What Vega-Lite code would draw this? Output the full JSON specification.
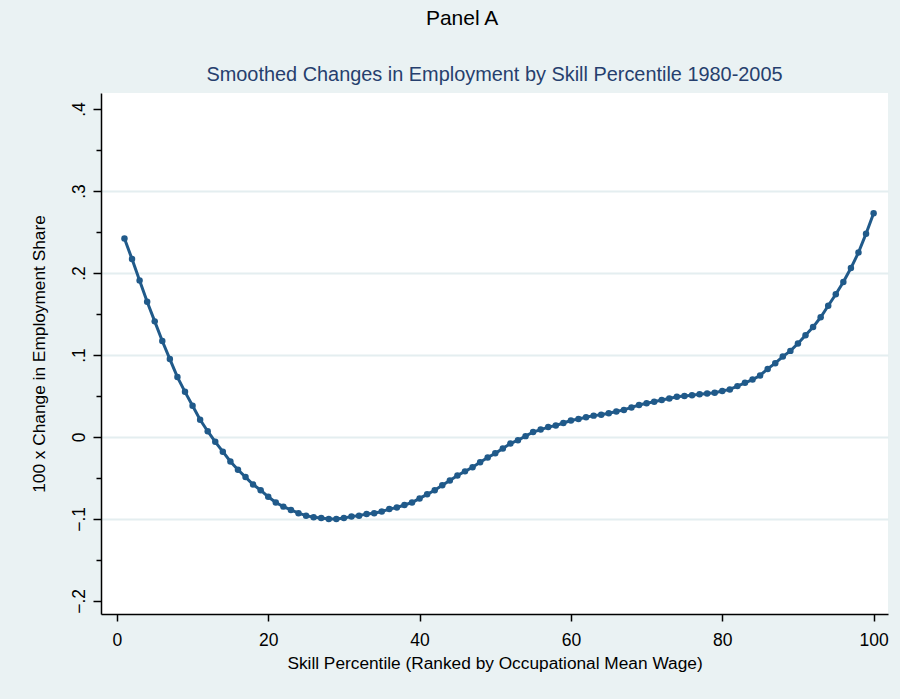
{
  "$schema": "https://vega.github.io/schema/vega-lite/v6.json",
  "background": "#eaf2f3",
  "padding": {"left": 30, "top": 8, "right": 11, "bottom": 31},
  "title": {
    "text": "Panel A",
    "anchor": "middle",
    "frame": "bounds",
    "font": "Liberation Sans",
    "fontSize": 21,
    "fontWeight": "normal",
    "color": "#000000",
    "dx": 3,
    "offset": 36
  },
  "vconcat": [
    {
      "width": 787,
      "height": 521,
      "title": {
        "text": "Smoothed Changes in Employment by Skill Percentile 1980-2005",
        "anchor": "middle",
        "frame": "group",
        "font": "Liberation Sans",
        "fontSize": 19.9,
        "fontWeight": "normal",
        "color": "#263f6e",
        "offset": 8
      },
      "data": {
        "values": [
          {"pct": 1, "chg": 0.242}, {"pct": 2, "chg": 0.217}, {"pct": 3, "chg": 0.191}, {"pct": 4, "chg": 0.165},
          {"pct": 5, "chg": 0.141}, {"pct": 6, "chg": 0.117}, {"pct": 7, "chg": 0.095}, {"pct": 8, "chg": 0.073},
          {"pct": 9, "chg": 0.055}, {"pct": 10, "chg": 0.038}, {"pct": 11, "chg": 0.021}, {"pct": 12, "chg": 0.007},
          {"pct": 13, "chg": -0.006}, {"pct": 14, "chg": -0.018}, {"pct": 15, "chg": -0.030}, {"pct": 16, "chg": -0.040},
          {"pct": 17, "chg": -0.049}, {"pct": 18, "chg": -0.058}, {"pct": 19, "chg": -0.065}, {"pct": 20, "chg": -0.073},
          {"pct": 21, "chg": -0.080}, {"pct": 22, "chg": -0.085}, {"pct": 23, "chg": -0.089}, {"pct": 24, "chg": -0.093},
          {"pct": 25, "chg": -0.096}, {"pct": 26, "chg": -0.098}, {"pct": 27, "chg": -0.099}, {"pct": 28, "chg": -0.100},
          {"pct": 29, "chg": -0.100}, {"pct": 30, "chg": -0.099}, {"pct": 31, "chg": -0.097}, {"pct": 32, "chg": -0.096},
          {"pct": 33, "chg": -0.094}, {"pct": 34, "chg": -0.093}, {"pct": 35, "chg": -0.091}, {"pct": 36, "chg": -0.088},
          {"pct": 37, "chg": -0.086}, {"pct": 38, "chg": -0.083}, {"pct": 39, "chg": -0.080}, {"pct": 40, "chg": -0.075},
          {"pct": 41, "chg": -0.070}, {"pct": 42, "chg": -0.065}, {"pct": 43, "chg": -0.059}, {"pct": 44, "chg": -0.053},
          {"pct": 45, "chg": -0.047}, {"pct": 46, "chg": -0.042}, {"pct": 47, "chg": -0.037}, {"pct": 48, "chg": -0.031},
          {"pct": 49, "chg": -0.025}, {"pct": 50, "chg": -0.020}, {"pct": 51, "chg": -0.014}, {"pct": 52, "chg": -0.008},
          {"pct": 53, "chg": -0.004}, {"pct": 54, "chg": 0.001}, {"pct": 55, "chg": 0.006}, {"pct": 56, "chg": 0.009},
          {"pct": 57, "chg": 0.012}, {"pct": 58, "chg": 0.014}, {"pct": 59, "chg": 0.017}, {"pct": 60, "chg": 0.020},
          {"pct": 61, "chg": 0.022}, {"pct": 62, "chg": 0.024}, {"pct": 63, "chg": 0.026}, {"pct": 64, "chg": 0.027},
          {"pct": 65, "chg": 0.029}, {"pct": 66, "chg": 0.031}, {"pct": 67, "chg": 0.033}, {"pct": 68, "chg": 0.036},
          {"pct": 69, "chg": 0.039}, {"pct": 70, "chg": 0.041}, {"pct": 71, "chg": 0.043}, {"pct": 72, "chg": 0.045},
          {"pct": 73, "chg": 0.047}, {"pct": 74, "chg": 0.049}, {"pct": 75, "chg": 0.050}, {"pct": 76, "chg": 0.051},
          {"pct": 77, "chg": 0.052}, {"pct": 78, "chg": 0.053}, {"pct": 79, "chg": 0.054}, {"pct": 80, "chg": 0.056},
          {"pct": 81, "chg": 0.058}, {"pct": 82, "chg": 0.062}, {"pct": 83, "chg": 0.066}, {"pct": 84, "chg": 0.070},
          {"pct": 85, "chg": 0.075}, {"pct": 86, "chg": 0.083}, {"pct": 87, "chg": 0.090}, {"pct": 88, "chg": 0.098},
          {"pct": 89, "chg": 0.105}, {"pct": 90, "chg": 0.114}, {"pct": 91, "chg": 0.124}, {"pct": 92, "chg": 0.134},
          {"pct": 93, "chg": 0.146}, {"pct": 94, "chg": 0.160}, {"pct": 95, "chg": 0.174}, {"pct": 96, "chg": 0.189},
          {"pct": 97, "chg": 0.206}, {"pct": 98, "chg": 0.225}, {"pct": 99, "chg": 0.248}, {"pct": 100, "chg": 0.273}
        ]
      },
      "mark": {
        "type": "line",
        "color": "#205a8a",
        "strokeWidth": 3,
        "point": {"filled": true, "size": 42, "color": "#205a8a", "opacity": 1}
      },
      "encoding": {
        "x": {
          "field": "pct",
          "type": "quantitative",
          "scale": {"domain": [-2.1, 101.9], "nice": false, "zero": false},
          "axis": {
            "title": "Skill Percentile (Ranked by Occupational Mean Wage)",
            "values": [0, 20, 40, 60, 80, 100],
            "grid": false,
            "tickSize": 7,
            "labelPadding": 10,
            "titlePadding": 6
          }
        },
        "y": {
          "field": "chg",
          "type": "quantitative",
          "scale": {"domain": [-0.216, 0.4196], "nice": false, "zero": false},
          "axis": {
            "title": "100 x Change in Employment Share",
            "values": [-0.2, -0.15, -0.1, -0.05, 0, 0.05, 0.1, 0.15, 0.2, 0.25, 0.3, 0.35, 0.4],
            "labelExpr": "abs(datum.value * 10 - round(datum.value * 10)) > 0.01 ? '' : (datum.value == 0 ? '0' : replace(format(datum.value, '.1f'), '0.', '.'))",
            "labelAngle": -90,
            "labelAlign": "center",
            "labelBaseline": "bottom",
            "labelPadding": 5,
            "tickSize": {"condition": {"test": "abs(datum.value * 10 - round(datum.value * 10)) > 0.01", "value": 5}, "value": 8},
            "grid": true,
            "gridOpacity": {"condition": {"test": "datum.value > -0.15 && datum.value < 0.35 && abs(datum.value * 10 - round(datum.value * 10)) < 0.01", "value": 1}, "value": 0},
            "titlePadding": 22
          }
        }
      }
    }
  ],
  "config": {
    "font": "Liberation Sans",
    "view": {"fill": "#ffffff", "stroke": null},
    "axis": {
      "domainColor": "#000000",
      "domainWidth": 1.5,
      "tickColor": "#000000",
      "tickWidth": 1.5,
      "labelColor": "#000000",
      "labelFont": "Liberation Sans",
      "labelFontSize": 17.5,
      "titleColor": "#000000",
      "titleFont": "Liberation Sans",
      "titleFontSize": 17.3,
      "titleFontWeight": "normal",
      "gridColor": "#e4eef0",
      "gridWidth": 2
    }
  }
}
